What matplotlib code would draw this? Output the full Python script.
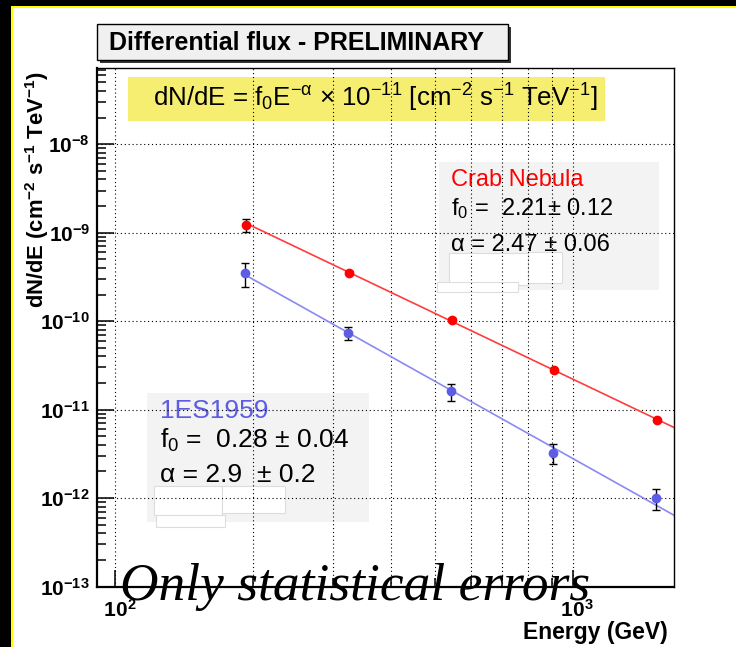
import matplotlib
matplotlib.use("Agg")
import matplotlib.pyplot as plt
import numpy as np
from matplotlib.patches import Rectangle
from matplotlib.ticker import FixedLocator, LogLocator, FuncFormatter, NullFormatter

# ---------------------------------------------------------------- data
crab_energy = [193, 325, 544, 912, 1528]                       # GeV
crab_flux = [1.23e-9, 3.53e-10, 1.04e-10, 2.79e-11, 7.59e-12]   # cm^-2 s^-1 TeV^-1
crab_err = [0.20e-9, 0.15e-10, 0.40e-11, 1.0e-12, 0.25e-12]

es_energy = [192, 323, 541, 907, 1523]
es_flux = [3.53e-10, 7.35e-11, 1.61e-11, 3.27e-12, 1.00e-12]
es_err = [1.07e-10, 1.28e-11, 0.35e-11, 0.85e-12, 0.26e-12]

# power-law fit parameters: dN/dE = f0 * E[TeV]^-alpha * 1e-11
crab_f0, crab_alpha = 2.21, 2.47
es_f0, es_alpha = 0.28, 2.9

x_range = (91.35, 1664.0)
y_range = (1e-13, 7.28e-8)
x_major = [100, 1000]
y_major = [1e-13, 1e-12, 1e-11, 1e-10, 1e-9, 1e-8]

# ---------------------------------------------------------------- style
W, H, DPI = 736, 647, 100
plt.rcParams["font.family"] = ["Liberation Sans", "DejaVu Sans"]
plt.rcParams["font.weight"] = "bold"
plt.rcParams["mathtext.default"] = "regular"

RED = "#ff0000"
RED_LINE = "#ff3c3c"
BLUE = "#5c5ce4"
BLUE_LINE = "#8a8af0"


def P(x, y):
    """pixel position (from top-left) -> figure fraction"""
    return x / W, 1 - y / H


def box(target, x0, y0, x1, y1, **kw):
    r = Rectangle(P(x0, y1), (x1 - x0) / W, (y1 - y0) / H,
                  transform=fig.transFigure, **kw)
    target.add_artist(r) if target is fig else target.add_patch(r)
    return r


fig = plt.figure(figsize=(W / DPI, H / DPI), dpi=DPI, facecolor="white")

# black frame with yellow rule
box(fig, 0, 0, W, 6, facecolor="black", edgecolor="none", zorder=-5)
box(fig, 11, 6, W, 7.5, facecolor="#ffff00", edgecolor="none", zorder=-5)
box(fig, 0, 0, 11, H, facecolor="black", edgecolor="none", zorder=-4)
box(fig, 11, 6, 12.5, H, facecolor="#ffff00", edgecolor="none", zorder=-4)

ax = fig.add_axes([97 / W, 1 - 586.5 / H, 577 / W, 518.5 / H])
ax.set_xscale("log")
ax.set_yscale("log")
ax.set_xlim(*x_range)
ax.set_ylim(*y_range)

ax.xaxis.set_major_locator(FixedLocator(x_major))
ax.xaxis.set_minor_locator(LogLocator(base=10, subs=np.arange(2, 10), numticks=30))
ax.xaxis.set_minor_formatter(NullFormatter())
ax.xaxis.set_major_formatter(FuncFormatter(
    lambda v, p: r"$\hspace{0.45}10^{%d}$" % round(np.log10(v))))
ax.yaxis.set_major_locator(FixedLocator(y_major))
ax.yaxis.set_minor_locator(LogLocator(base=10, subs=np.arange(2, 10), numticks=30))
ax.yaxis.set_minor_formatter(NullFormatter())
ax.yaxis.set_major_formatter(FuncFormatter(lambda v, p: r"$10^{%d}$" % round(np.log10(v))))

ax.tick_params(which="both", direction="in", top=False, right=False,
               width=1.1, labelsize=15)
ax.tick_params(which="major", length=12)
ax.tick_params(which="minor", length=6.5)
ax.tick_params(axis="y", pad=5)
ax.tick_params(axis="x", pad=9)

for s in ("left", "bottom"):
    ax.spines[s].set_linewidth(1.6)
for s in ("top", "right"):
    ax.spines[s].set_linewidth(1.0)

grid_kw = dict(color="black", linestyle=(0, (1, 2.5)), linewidth=0.8)
ax.grid(True, which="major", axis="both", **grid_kw)
ax.grid(True, which="minor", axis="x", **grid_kw)

# fitted power laws
for energy, f0, alpha, col in ((crab_energy, crab_f0, crab_alpha, RED_LINE),
                               (es_energy, es_f0, es_alpha, BLUE_LINE)):
    e = np.geomspace(energy[0], x_range[1], 200)
    ax.plot(e, f0 * 1e-11 * (e / 1000.0) ** (-alpha), color=col, lw=1.2, zorder=2)

# measured points
ax.errorbar(crab_energy, crab_flux, yerr=crab_err, fmt="o", color=RED, ms=6,
            ecolor="black", elinewidth=1, capsize=2.6, capthick=1, zorder=3)
ax.errorbar(es_energy, es_flux, yerr=es_err, fmt="o", color=BLUE, ms=6,
            ecolor="black", elinewidth=1, capsize=2.6, capthick=1, zorder=3)

# title pad
box(fig, 99.7, 27.3, 511, 63, facecolor="#333333", edgecolor="none", zorder=1)
box(fig, 96.7, 24.3, 508, 60, facecolor="#f0f0f0", edgecolor="black", lw=1, zorder=2)
fig.text(*P(109.3, 50), "Differential flux - PRELIMINARY", fontsize=18,
         fontweight="bold", va="baseline", ha="left", zorder=3)

# formula banner
box(ax, 128, 76.7, 605, 121, facecolor="#f6ee70", edgecolor="none", zorder=1)
ax.text(*P(153, 106.7),
        r"dN/dE = f$_0$E$^{-\alpha}$ × 10$^{-11}$ [cm$^{-2}$ s$^{-1}$ TeV$^{-1}$]",
        transform=fig.transFigure, fontsize=18.6, fontweight="normal",
        va="baseline", ha="left", zorder=1.2)

# Crab Nebula fit results
box(ax, 439.3, 161.7, 659.3, 290, facecolor="#f3f3f3", edgecolor="none", zorder=1)
for (x0, y0, x1, y1) in ((449, 253, 528, 285), (528, 252, 562, 283), (437, 282, 518, 292)):
    box(ax, x0, y0, x1, y1, facecolor="white", edgecolor="#dddddd", lw=0.8, zorder=1.05)
crab_lines = [("Crab Nebula", RED, 186),
              ("f$_0$ =  %.2f± %.2f" % (crab_f0, 0.12), "black", 215),
              ("α = %.2f ± %.2f" % (crab_alpha, 0.06), "black", 250.5)]
for txt, col, yb in crab_lines:
    ax.text(*P(450.7, yb), txt, transform=fig.transFigure, color=col,
            fontsize=17, fontweight="normal", va="baseline", ha="left", zorder=1.2)

# 1ES1959 fit results
box(ax, 147.3, 393.3, 369, 521.7, facecolor="#f3f3f3", edgecolor="none", zorder=1)
for (x0, y0, x1, y1) in ((154, 486, 222, 515), (222, 486, 285, 513), (156, 515, 225, 527)):
    box(ax, x0, y0, x1, y1, facecolor="white", edgecolor="#dddddd", lw=0.8, zorder=1.05)
es_lines = [("1ES1959", BLUE, 418),
            ("f$_0$ =  %.2f ± %.2f" % (es_f0, 0.04), "black", 448.3),
            ("α = %.1f  ± %.1f" % (es_alpha, 0.2), "black", 481.7)]
for txt, col, yb in es_lines:
    ax.text(*P(160, yb), txt, transform=fig.transFigure, color=col,
            fontsize=19, fontweight="normal", va="baseline", ha="left", zorder=1.2)

# axis titles
ax.set_xlabel("Energy (GeV)", loc="right", fontsize=16.5, fontweight="bold")
ax.xaxis.set_label_coords((668 - 97) / 577, -(621 - 586.5) / 518.5)
ax.set_ylabel(r"dN/dE (cm$^{-2}$ s$^{-1}$ TeV$^{-1}$)", loc="top",
              fontsize=15.8, fontweight="bold")
ax.yaxis.set_label_coords(-(97 - 51) / 577, 0.995)

fig.text(*P(120, 600), "Only statistical errors", family="Liberation Serif",
         style="italic", fontweight="normal", fontsize=38.4,
         va="baseline", ha="left", zorder=10)

fig.savefig("out.png", dpi=DPI)
